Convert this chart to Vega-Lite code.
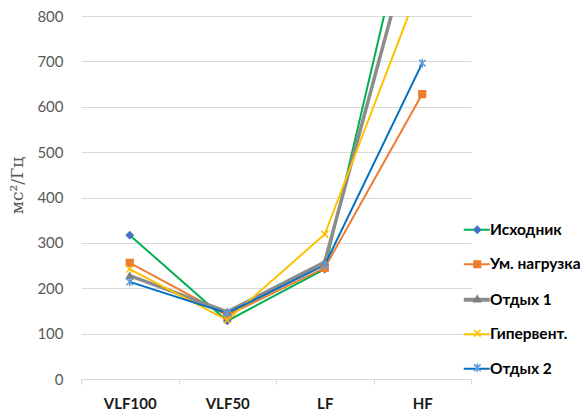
{
  "$schema": "https://vega.github.io/schema/vega-lite/v6.json",
  "width": 390,
  "height": 363,
  "autosize": "none",
  "padding": {"left": 81, "top": 16, "right": 115, "bottom": 38},
  "background": "white",
  "config": {
    "view": {"stroke": null},
    "font": "Lato"
  },
  "data": {
    "values": [
      {"band": "VLF100", "series": "Исходник", "value": 317},
      {"band": "VLF50", "series": "Исходник", "value": 128},
      {"band": "LF", "series": "Исходник", "value": 242},
      {"band": "HF", "series": "Исходник", "value": 1160},
      {"band": "VLF100", "series": "Ум. нагрузка", "value": 256},
      {"band": "VLF50", "series": "Ум. нагрузка", "value": 140},
      {"band": "LF", "series": "Ум. нагрузка", "value": 245},
      {"band": "HF", "series": "Ум. нагрузка", "value": 628},
      {"band": "VLF100", "series": "Отдых 1", "value": 228},
      {"band": "VLF50", "series": "Отдых 1", "value": 148},
      {"band": "LF", "series": "Отдых 1", "value": 258},
      {"band": "HF", "series": "Отдых 1", "value": 1055},
      {"band": "VLF100", "series": "Гипервент.", "value": 242},
      {"band": "VLF50", "series": "Гипервент.", "value": 130},
      {"band": "LF", "series": "Гипервент.", "value": 319},
      {"band": "HF", "series": "Гипервент.", "value": 881},
      {"band": "VLF100", "series": "Отдых 2", "value": 214},
      {"band": "VLF50", "series": "Отдых 2", "value": 145},
      {"band": "LF", "series": "Отдых 2", "value": 251},
      {"band": "HF", "series": "Отдых 2", "value": 696}
    ]
  },
  "encoding": {
    "x": {
      "field": "band",
      "type": "nominal",
      "sort": ["VLF100", "VLF50", "LF", "HF"],
      "scale": {"type": "band", "paddingInner": 0, "paddingOuter": 0},
      "axis": {
        "title": null,
        "labelAngle": 0,
        "labelFont": "Lato",
        "labelFontSize": 15,
        "labelFontWeight": "bold",
        "labelColor": "#1a1a1a",
        "labelPadding": 12,
        "domainColor": "#D9D9D9",
        "tickColor": "#D9D9D9",
        "tickSize": 5,
        "tickBand": "extent",
        "grid": false
      }
    },
    "y": {
      "field": "value",
      "type": "quantitative",
      "scale": {"domain": [0, 800], "nice": false},
      "axis": {
        "values": [0, 100, 200, 300, 400, 500, 600, 700, 800],
        "title": "мс²/Гц",
        "titleFont": "DejaVu Serif",
        "titleFontSize": 17,
        "titleFontWeight": "normal",
        "titleColor": "#595959",
        "titleX": -64,
        "titleY": 169,
        "titleBaseline": "middle",
        "labelFont": "Lato",
        "labelFontSize": 15,
        "labelColor": "#595959",
        "labelPadding": 18,
        "domain": false,
        "ticks": false,
        "gridColor": "#D9D9D9",
        "gridWidth": 1
      }
    }
  },
  "layer": [
    {
      "mark": {"type": "line", "clip": true},
      "encoding": {
        "color": {
          "field": "series",
          "type": "nominal",
          "scale": {
            "domain": ["Исходник", "Ум. нагрузка", "Отдых 1", "Гипервент.", "Отдых 2"],
            "range": ["#00B050", "#ED7D31", "#8C8C8C", "#FFC000", "#0070C0"]
          },
          "legend": {
            "orient": "none",
            "legendX": 388,
            "legendY": 206,
            "title": null,
            "symbolType": "M-1,0L1,0",
            "symbolSize": 676,
            "symbolStrokeWidth": 2,
            "labelFont": "Lato",
            "labelFontSize": 15.5,
            "labelFontWeight": "bold",
            "labelColor": "#000000",
            "labelOffset": 5.5,
            "rowPadding": 17.5,
            "encode": {
              "symbols": {
                "update": {
                  "strokeWidth": {"signal": "datum.value === 'Отдых 1' ? 4 : 2"}
                }
              }
            }
          }
        },
        "strokeWidth": {
          "condition": {"test": "datum.series === 'Отдых 1'", "value": 3.5},
          "value": 2
        }
      }
    },
    {
      "mark": {"type": "point", "clip": true, "filled": true, "opacity": 1, "strokeWidth": 1.5, "size": 45},
      "encoding": {
        "shape": {
          "field": "series",
          "type": "nominal",
          "sort": null,
          "scale": {
            "range": ["diamond", "square", "triangle-up", "M-1,-1L1,1M-1,1L1,-1", "M-1,-1L1,1M-1,1L1,-1M0,-1.3L0,1.3"]
          },
          "legend": {
            "orient": "none",
            "legendX": 388.5,
            "legendY": 206,
            "title": null,
            "symbolSize": 45,
            "symbolStrokeWidth": 1.5,
            "labelFontSize": 15.5,
            "labelFont": "Lato",
            "labelFontWeight": "bold",
            "labelOpacity": 0,
            "rowPadding": 17.5,
            "encode": {
              "symbols": {
                "update": {
                  "fill": {"scale": "fill", "field": "value"},
                  "stroke": {"scale": "stroke", "field": "value"},
                  "opacity": {"value": 1}
                }
              }
            }
          }
        },
        "fill": {
          "field": "series",
          "type": "nominal",
          "sort": null,
          "scale": {"range": ["#4472C4", "#ED7D31", "#7F7F7F", "transparent", "transparent"]},
          "legend": null
        },
        "stroke": {
          "field": "series",
          "type": "nominal",
          "sort": null,
          "scale": {"range": ["#4472C4", "#ED7D31", "#7F7F7F", "#FFC000", "#5B9BD5"]},
          "legend": null
        }
      }
    }
  ]
}
